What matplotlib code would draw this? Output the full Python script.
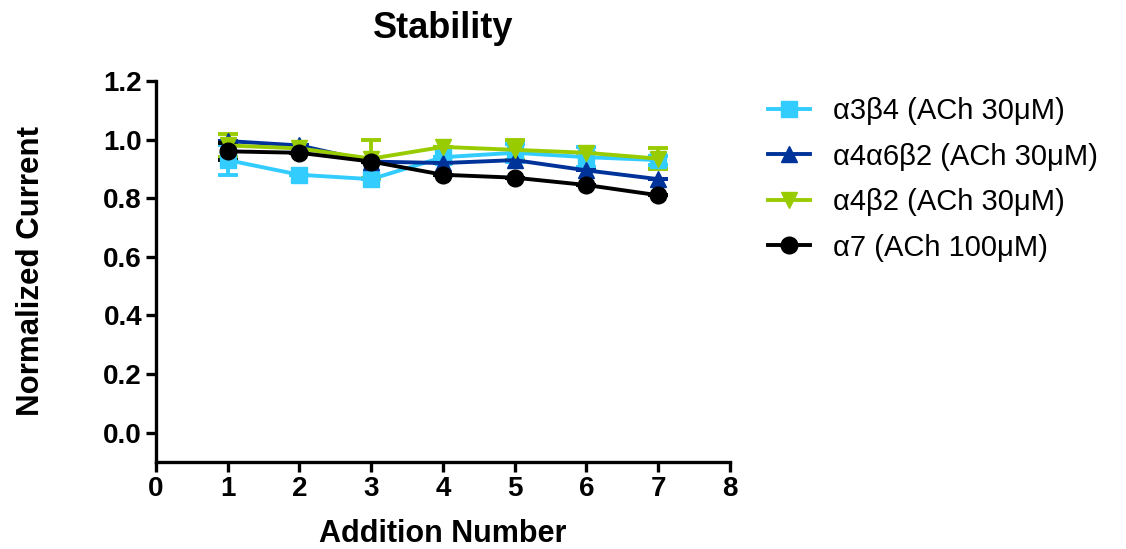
import matplotlib
matplotlib.use('Agg')
import matplotlib.pyplot as plt
from matplotlib.lines import Line2D
import numpy as np

plt.rcParams['font.family'] = ['Liberation Sans', 'DejaVu Sans']

additions = [1, 2, 3, 4, 5, 6, 7]

a3b4 = [0.93, 0.88, 0.865, 0.94, 0.955, 0.94, 0.93]
a3b4_err = [0.05, 0.0, 0.0, 0.0, 0.03, 0.035, 0.015]

a4a6b2 = [0.995, 0.98, 0.925, 0.92, 0.93, 0.895, 0.865]
a4a6b2_err = [0.0, 0.0, 0.0, 0.0, 0.0, 0.0, 0.0]

a4b2 = [0.98, 0.97, 0.935, 0.975, 0.965, 0.955, 0.935]
a4b2_err = [0.04, 0.0, 0.065, 0.0, 0.035, 0.0, 0.035]

a7 = [0.96, 0.955, 0.925, 0.88, 0.87, 0.845, 0.81]
a7_err = [0.03, 0.0, 0.0, 0.0, 0.0, 0.0, 0.0]

labels = ['α3β4 (ACh 30μM)', 'α4α6β2 (ACh 30μM)', 'α4β2 (ACh 30μM)', 'α7 (ACh 100μM)']
colors = ['#33CCFF', '#003399', '#99CC00', '#000000']
markers = ['s', '^', 'v', 'o']

fig = plt.figure(figsize=(11.26, 5.49), dpi=100)
ax = fig.add_axes([0.1385, 0.1585, 0.5098, 0.694])

series = [(a3b4, a3b4_err), (a4a6b2, a4a6b2_err), (a4b2, a4b2_err), (a7, a7_err)]
handles = []
for (y, e), lab, c, m in zip(series, labels, colors, markers):
    ax.errorbar(additions, y, yerr=e, color=c, marker=m, markersize=12,
                linewidth=2.8, elinewidth=2.8, capsize=7.5, capthick=2.8)
    handles.append(Line2D([], [], color=c, marker=m, markersize=12,
                          linewidth=2.8, label=lab))

ax.set_xlim(0, 8)
ax.set_ylim(-0.1, 1.2)
ax.set_xticks(range(0, 9))
ax.set_yticks(np.arange(0, 1.21, 0.2))
ax.set_yticklabels(['0.0', '0.2', '0.4', '0.6', '0.8', '1.0', '1.2'])

for s in ['top', 'right']:
    ax.spines[s].set_visible(False)
for s in ['left', 'bottom']:
    ax.spines[s].set_linewidth(2.4)
ax.tick_params(width=2.4, length=7, labelsize=20, direction='out', pad=3)
for t in ax.get_xticklabels() + ax.get_yticklabels():
    t.set_fontweight('bold')

ax.set_xlabel('Addition Number', fontsize=22, fontweight='bold', labelpad=12)
ax.set_ylabel('Normalized Current', fontsize=22.5, fontweight='bold', labelpad=41)
ax.set_title('Stability', fontsize=26, fontweight='bold', pad=31)

fig.legend(handles=handles, loc='upper left', bbox_to_anchor=(0.6587, 0.871),
           frameon=False, fontsize=21, handlelength=1.44, handletextpad=0.79,
           labelspacing=0.6)

fig.savefig('out.png', dpi=100)
